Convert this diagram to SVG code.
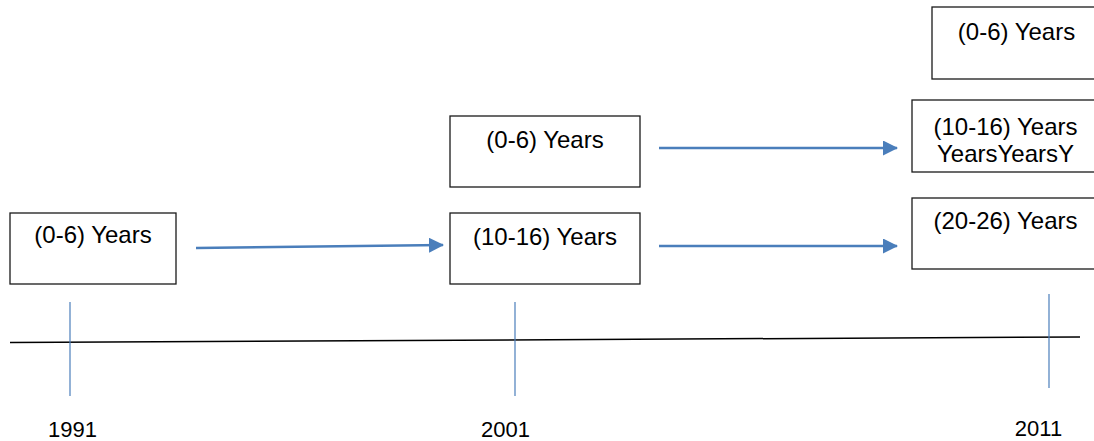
<svg xmlns="http://www.w3.org/2000/svg" width="1094" height="441" viewBox="0 0 1094 441">
<style>
.box{fill:#fff;stroke:#1a1a1a;stroke-width:1.3}
.t{font-family:"Liberation Sans",Arial,sans-serif;font-size:24px;fill:#000;text-anchor:middle}
.yr{font-family:"Liberation Sans",Arial,sans-serif;font-size:22px;fill:#000;text-anchor:middle}
.arr{stroke:#4a7ebb;stroke-width:2.5;fill:none;marker-end:url(#ah)}
.tick{stroke:#4a7ebb;stroke-width:1.2}
</style>
<defs>
<marker id="ah" markerWidth="6" markerHeight="6" refX="5.6" refY="3" orient="auto" markerUnits="strokeWidth">
<path d="M0,0 L6,3 L0,6 Z" fill="#4a7ebb"/>
</marker>
</defs>
<rect width="1094" height="441" fill="#fff"/>
<g id="timeline">
<line x1="10" y1="342.5" x2="1080" y2="337" stroke="#000" stroke-width="1.5"/>
<line class="tick" x1="70" y1="302" x2="70" y2="396"/>
<line class="tick" x1="515" y1="302" x2="515" y2="396"/>
<line class="tick" x1="1049" y1="294" x2="1049" y2="388"/>
<text class="yr" x="72.5" y="437">1991</text>
<text class="yr" x="505.5" y="437">2001</text>
<text class="yr" x="1038.5" y="436">2011</text>
</g>
<g id="n1991">
<rect class="box" x="10" y="213" width="166" height="71"/>
<text class="t" x="93" y="243">(0-6) Years</text>
</g>
<g id="n2001a">
<rect class="box" x="450" y="116" width="190" height="71"/>
<text class="t" x="545" y="148">(0-6) Years</text>
</g>
<g id="n2001b">
<rect class="box" x="450" y="213" width="190" height="71"/>
<text class="t" x="545" y="245">(10-16) Years</text>
</g>
<g id="n2011a">
<rect class="box" x="932" y="7" width="180" height="72"/>
<text class="t" x="1016.5" y="40">(0-6) Years</text>
</g>
<g id="n2011b">
<rect class="box" x="912" y="100" width="200" height="72"/>
<text class="t" x="1005.5" y="135">(10-16) Years</text>
<text class="t" x="1005.5" y="162">YearsYearsY</text>
</g>
<g id="n2011c">
<rect class="box" x="912" y="198" width="200" height="71"/>
<text class="t" x="1005.5" y="229">(20-26) Years</text>
</g>
<g id="connectors">
<line class="arr" x1="196" y1="248" x2="443" y2="245"/>
<line class="arr" x1="659" y1="148" x2="897" y2="148"/>
<line class="arr" x1="659" y1="246" x2="897" y2="246"/>
</g>
</svg>
